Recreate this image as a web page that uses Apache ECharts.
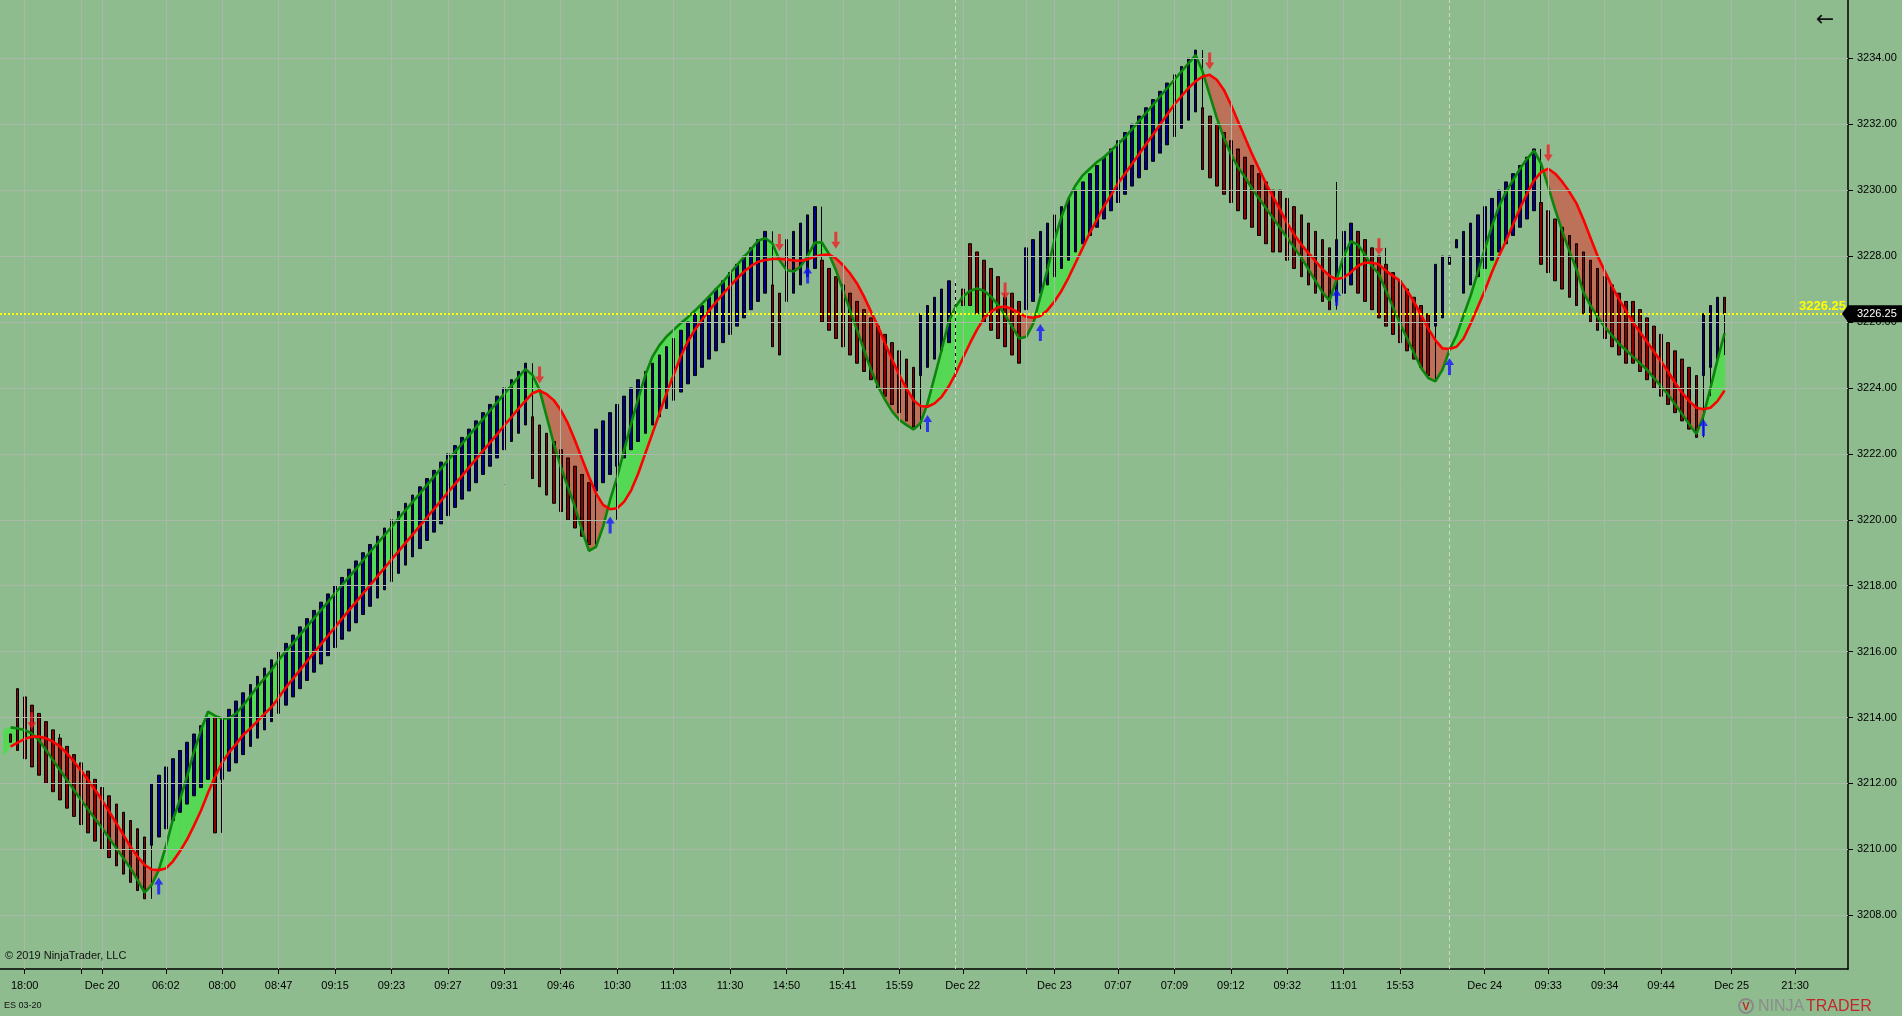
<!DOCTYPE html>
<html><head><meta charset="utf-8">
<script src="https://cdn.jsdelivr.net/npm/echarts@6/dist/echarts.min.js"></script>
<style>html,body{margin:0;padding:0;background:#8fbc8f;overflow:hidden}#c{width:1902px;height:1016px}</style>
</head><body><div id="c"></div>
<script>
// ---------- DATA ----------
// bars: [open, close] or [open, close, low, high]; bar index 0..243
const candles = [
[3213.5,3213.25],[3214.875,3213],[3214.625,3212.75],[3214.375,3212.5],[3214.125,3212.25],
[3213.875,3212],[3213.625,3211.75],[3213.375,3211.5,3211.5,3213.5],[3213.125,3211.25],[3212.875,3211],
[3212.625,3210.75],[3212.375,3210.5],[3212.125,3210.25],[3211.875,3210,3210,3212.25],[3211.625,3209.75],
[3211.375,3209.5],[3211.125,3209.25],[3210.875,3209],[3210.625,3208.75],[3210.375,3208.5],
[3210.125,3212,3208.5,3212],[3210.375,3212.25],[3210.625,3212.5],[3210.875,3212.75],[3211.125,3213],
[3211.375,3213.25],[3211.625,3213.5],[3211.875,3213.75],[3212.125,3214],[3214,3210.5],
[3212.125,3214,3210.5,3214],[3212.375,3214.25],[3212.625,3214.5],[3212.875,3214.75],[3213.125,3215],
[3213.375,3215.25],[3213.625,3215.5],[3213.875,3215.75],[3214.125,3216],[3214.375,3216.25],
[3214.625,3216.5],[3214.875,3216.75],[3215.125,3217],[3215.375,3217.25],[3215.625,3217.5],
[3215.875,3217.75],[3216.125,3218],[3216.375,3218.25],[3216.625,3218.5],[3216.875,3218.75],
[3217.125,3219],[3217.375,3219.25],[3217.625,3219.5],[3217.875,3219.75],[3218.125,3220],
[3218.375,3220.25],[3218.625,3220.5],[3218.875,3220.75],[3219.125,3221],[3219.375,3221.25],
[3219.625,3221.5],[3219.875,3221.75],[3220.125,3222],[3220.375,3222.25],[3220.625,3222.5],
[3220.875,3222.75],[3221.125,3223],[3221.375,3223.25],[3221.625,3223.5],[3221.875,3223.75],
[3222.125,3224,3220.5,3224],[3222.375,3224.25],[3222.625,3224.5],[3222.875,3224.75],[3223.125,3221.25,3221.25,3224.75],
[3222.875,3221],[3222.625,3220.75],[3222.375,3220.5],[3222.125,3220.25],[3221.875,3220],
[3221.625,3219.75],[3221.375,3219.5],[3221.125,3219.25],[3220.875,3222.75,3219.25,3222.75],[3221.125,3223],
[3221.375,3223.25],[3221.625,3223.5,3220,3223.5],[3221.875,3223.75],[3222.125,3224],[3222.375,3224.25],
[3222.625,3224.5],[3222.875,3224.75],[3223.125,3225],[3223.375,3225.25],[3223.625,3225.5],
[3223.875,3225.75],[3224.125,3226],[3224.375,3226.25],[3224.625,3226.5],[3224.875,3226.75],
[3225.125,3227],[3225.375,3227.25],[3225.625,3227.5],[3225.875,3227.75],[3226.125,3228],
[3226.375,3228.25],[3226.625,3228.5],[3226.875,3228.75],[3227.125,3225.25,3225.25,3228.75],[3226.875,3225],
[3226.625,3228.5,3225,3228.5],[3226.875,3228.75],[3227.125,3229],[3227.375,3229.25],[3227.625,3229.5],
[3227.875,3226,3226,3229.5],[3227.625,3225.75],[3227.375,3225.5],[3227.125,3225.25],[3226.875,3225],
[3226.625,3224.75],[3226.375,3224.5],[3226.125,3224.25],[3225.875,3224],[3225.625,3223.75],
[3225.375,3223.5],[3225.125,3223.25,3223.25,3226.75],[3224.875,3223],[3224.625,3222.75],[3224.375,3226.25,3222.75,3226.25],
[3224.625,3226.5],[3224.875,3226.75],[3225.125,3227],[3225.375,3227.25],[3226.5,3226.5,3224.25,3227.25],
[3227,3226.5],[3228.375,3226.5],[3228.125,3226.25],[3227.875,3226],[3227.625,3225.75],
[3227.375,3225.5],[3226.75,3225.25,3225.25,3226.875],[3226.875,3225],[3226.625,3224.75],[3226.375,3228.25,3224.75,3228.25],
[3226.625,3228.5],[3226.875,3228.75],[3227.125,3229],[3227.375,3229.25,3226.25,3229.25],[3227.625,3229.5],
[3227.875,3229.75],[3228.125,3230],[3228.375,3230.25],[3228.625,3230.5],[3228.875,3230.75],
[3229.125,3231],[3229.375,3231.25],[3229.625,3231.5],[3229.875,3231.75],[3230.125,3232],
[3230.375,3232.25],[3230.625,3232.5],[3230.875,3232.75],[3231.125,3233],[3231.375,3233.25],
[3231.625,3233.5],[3231.875,3233.75],[3232.125,3234],[3232.375,3234.25],[3232.5,3230.625,3230.625,3234.25],
[3232.25,3230.375],[3232,3230.125],[3231.75,3229.875],[3231.5,3229.625],[3231.25,3229.375],
[3231,3229.125],[3230.75,3228.875],[3230.5,3228.625],[3230.25,3228.375],[3230,3228.125],
[3230,3228.125],[3229.75,3227.875],[3229.5,3227.625],[3229.25,3227.375],[3229,3227.125],
[3228.75,3226.875],[3228.5,3226.625],[3228.25,3226.375],[3226.625,3228.5,3226.375,3230.25],[3226.875,3228.75,3226.875,3231.5],
[3227.125,3229],[3228.75,3226.875],[3228.5,3226.625],[3228.25,3226.375],[3228,3226.125],
[3227.75,3225.875,3225.875,3228.25],[3227.5,3225.625],[3227.25,3225.375],[3227,3225.125],[3226.75,3224.875],
[3226.5,3224.625],[3226.25,3224.375],[3225.875,3227.75,3224.25,3227.75],[3226.125,3228],[3227.75,3228],
[3228.25,3228.5],[3226.875,3228.75],[3227.125,3229],[3227.375,3229.25],[3227.625,3229.5,3226,3229.5],
[3227.875,3229.75],[3228.125,3230],[3228.375,3230.25],[3228.625,3230.5],[3228.875,3230.75],
[3229.125,3231],[3229.375,3231.25],[3229.625,3227.75,3227.75,3231.25],[3229.375,3227.5],[3229.125,3227.25],
[3228.875,3227],[3228.625,3226.75],[3228.375,3226.5],[3228.125,3226.25],[3227.875,3226],
[3227.625,3225.75],[3227.375,3225.5],[3227.125,3225.25],[3226.875,3225],[3226.625,3224.75],
[3226.625,3224.75],[3226.375,3224.5],[3226.125,3224.25],[3225.875,3224],[3225.625,3223.75],
[3225.375,3223.5],[3225.125,3223.25],[3224.875,3223],[3224.625,3222.75],[3224.375,3222.5],
[3224.375,3226.25,3222.5,3226.25],[3224.625,3226.5,3223.75,3226.5],[3224.875,3226.75],[3226.75,3226.25,3225,3226.75]
];

// fast (green) line; first value is the slot before bar 0 (only its fill shows)
const fastLine = [3213.64,
3213.70,3213.67,3213.62,3213.52,3213.32,3213.02,3212.71,3212.41,3212.10,3211.80,
3211.50,3211.21,3210.92,3210.64,3210.34,3210.03,3209.73,3209.43,3209.07,3208.69,
3208.92,3209.37,3210.08,3210.89,3211.50,3212.20,3212.96,3213.62,3214.18,3214.05,
3213.97,3213.98,3214.13,3214.38,3214.65,3214.94,3215.19,3215.44,3215.75,3216.00,
3216.25,3216.50,3216.76,3217.01,3217.26,3217.51,3217.77,3218.02,3218.27,3218.52,
3218.78,3219.03,3219.28,3219.53,3219.78,3220.04,3220.29,3220.54,3220.79,3221.05,
3221.30,3221.55,3221.80,3222.06,3222.31,3222.56,3222.81,3223.06,3223.32,3223.57,
3223.82,3224.07,3224.33,3224.57,3224.39,3223.94,3223.13,3222.32,3221.61,3221.00,
3220.40,3219.69,3219.06,3219.18,3219.79,3220.60,3221.30,3222.12,3222.93,3223.68,
3224.39,3224.95,3225.30,3225.56,3225.76,3225.96,3226.14,3226.34,3226.55,3226.77,
3227.00,3227.22,3227.48,3227.73,3227.98,3228.21,3228.47,3228.54,3228.39,3227.88,
3227.58,3227.53,3227.68,3228.00,3228.41,3228.42,3228.08,3227.58,3226.97,3226.36,
3225.76,3225.15,3224.54,3224.04,3223.63,3223.28,3223.03,3222.88,3222.74,3222.93,
3223.53,3224.34,3225.15,3226.01,3226.47,3226.77,3226.94,3227.02,3226.95,3226.77,
3226.52,3226.21,3225.86,3225.50,3225.55,3225.96,3226.77,3227.58,3228.49,3229.20,
3229.75,3230.15,3230.45,3230.65,3230.85,3231.00,3231.20,3231.40,3231.60,3231.85,
3232.10,3232.35,3232.60,3232.85,3233.10,3233.35,3233.60,3233.85,3234.10,3233.60,
3232.90,3232.20,3231.60,3231.10,3230.70,3230.40,3230.05,3229.75,3229.45,3229.15,
3228.85,3228.55,3228.25,3227.95,3227.60,3227.25,3226.90,3226.65,3227.30,3228.00,
3228.45,3228.35,3228.05,3227.70,3227.45,3226.95,3226.45,3225.95,3225.50,3225.05,
3224.60,3224.30,3224.20,3224.55,3225.15,3225.60,3226.20,3226.80,3227.50,3228.20,
3228.90,3229.50,3229.95,3230.30,3230.65,3230.95,3231.20,3230.80,3230.10,3229.40,
3228.75,3228.15,3227.60,3226.90,3226.50,3226.15,3225.85,3225.60,3225.35,3225.15,
3224.95,3224.75,3224.55,3224.30,3224.05,3223.80,3223.50,3223.20,3222.90,3222.60,
3223.15,3224.00,3224.85,3225.66];

// slow (red) line; same layout as fastLine
const slowLine = [3212.85,
3213.12,3213.24,3213.35,3213.42,3213.42,3213.37,3213.27,3213.12,3212.91,3212.66,
3212.39,3212.10,3211.80,3211.48,3211.14,3210.79,3210.44,3210.08,3209.78,3209.53,
3209.39,3209.37,3209.42,3209.63,3209.94,3210.29,3210.72,3211.18,3211.72,3212.21,
3212.63,3212.95,3213.20,3213.48,3213.67,3213.89,3214.11,3214.32,3214.60,3214.90,
3215.17,3215.43,3215.70,3215.96,3216.22,3216.48,3216.74,3217.00,3217.26,3217.51,
3217.77,3218.02,3218.28,3218.53,3218.79,3219.04,3219.30,3219.55,3219.81,3220.06,
3220.32,3220.57,3220.83,3221.08,3221.33,3221.59,3221.84,3222.10,3222.35,3222.60,
3222.86,3223.11,3223.37,3223.61,3223.84,3223.92,3223.81,3223.63,3223.33,3222.93,
3222.42,3221.86,3221.31,3220.80,3220.45,3220.32,3220.35,3220.55,3220.90,3221.41,
3222.02,3222.62,3223.23,3223.84,3224.39,3224.95,3225.40,3225.76,3226.06,3226.34,
3226.60,3226.85,3227.09,3227.32,3227.53,3227.70,3227.83,3227.88,3227.91,3227.92,
3227.90,3227.87,3227.86,3227.90,3227.98,3228.03,3228.05,3227.93,3227.73,3227.48,
3227.17,3226.77,3226.31,3225.86,3225.35,3224.85,3224.39,3223.99,3223.63,3223.45,
3223.43,3223.53,3223.73,3224.04,3224.44,3224.90,3225.35,3225.76,3226.11,3226.31,
3226.45,3226.47,3226.39,3226.26,3226.16,3226.13,3226.18,3226.36,3226.62,3226.95,
3227.35,3227.80,3228.25,3228.70,3229.10,3229.50,3229.85,3230.20,3230.50,3230.80,
3231.10,3231.40,3231.70,3232.00,3232.30,3232.60,3232.85,3233.10,3233.30,3233.45,
3233.50,3233.35,3233.05,3232.60,3232.10,3231.60,3231.10,3230.65,3230.20,3229.80,
3229.40,3229.00,3228.65,3228.35,3228.10,3227.85,3227.60,3227.40,3227.30,3227.35,
3227.50,3227.70,3227.80,3227.80,3227.75,3227.55,3227.40,3227.25,3226.95,3226.60,
3226.20,3225.80,3225.45,3225.20,3225.18,3225.25,3225.50,3225.95,3226.45,3226.95,
3227.50,3228.00,3228.45,3228.95,3229.45,3229.90,3230.30,3230.55,3230.65,3230.50,
3230.25,3229.95,3229.60,3229.10,3228.55,3228.00,3227.55,3227.10,3226.70,3226.35,
3226.00,3225.70,3225.40,3225.10,3224.80,3224.50,3224.15,3223.85,3223.60,3223.40,
3223.35,3223.40,3223.60,3223.92];

// signal arrows: [bar index, price]
const arrowsDown = [[3,3213.90],[75,3224.39],[109,3228.41],[117,3228.48],[141,3226.94],[170,3233.92],[194,3228.28],[218,3231.13]];
const arrowsUp   = [[21,3208.89],[85,3219.84],[113,3227.43],[130,3222.92],[146,3225.68],[188,3226.75],[204,3224.65],[240,3222.80]];

// time axis ticks (bar index) and labels
const tickIdx = [2,10,13,22,30,38,46,54,62,70,78,86,94,102,110,118,126,135,144,148,157,165,173,181,189,197,209,218,226,234,244,253];
const tickLabels = ['18:00','','Dec 20','06:02','08:00','08:47','09:15','09:23','09:27','09:31','09:46','10:30','11:03','11:30','14:50','15:41','15:59','Dec 22','','Dec 23','07:07','07:09','09:12','09:32','11:01','15:53','Dec 24','09:33','09:34','09:44','Dec 25','21:30'];
const sessionBreaks = [134, 204];
const yTicks = [3208,3210,3212,3214,3216,3218,3220,3222,3224,3226,3228,3230,3232,3234];

// ---------- LAYOUT ----------
const W = 1902, H = 1016;
const GRID = {left: 0, right: 54, top: 0, bottom: 47};
const Y_MIN = 3206.37, Y_MAX = 3235.77;
const LEAD = 1, FUTURE = 17;
const NCAT = LEAD + candles.length + FUTURE;
const FONT = 'Arial, "Liberation Sans", sans-serif';
const BG = '#8fbc8f', GRIDC = '#a9b8a7';
const UP_FILL = '#55d955', DN_FILL = '#bd7159';

// ---------- BUILD ----------
const categories = new Array(NCAT).fill('');
tickIdx.forEach((t, k) => { categories[t + LEAD] = tickLabels[k] || ''; });
const tickSet = new Set(tickIdx.map(t => t + LEAD));
const showTick = (i) => tickSet.has(i);

const candleData = new Array(NCAT).fill('-');
candles.forEach((c, i) => {
  const o = c[0], cl = c[1];
  const lo = c.length > 2 ? c[2] : Math.min(o, cl);
  const hi = c.length > 3 ? c[3] : Math.max(o, cl);
  candleData[i + LEAD] = [o, cl, lo, hi];
});
const fastData = new Array(NCAT).fill('-');
const slowData = new Array(NCAT).fill('-');
for (let p = LEAD; p < fastLine.length; p++) { fastData[p] = fastLine[p]; slowData[p] = slowLine[p]; }
const fillData = [];
for (let p = 0; p + 1 < fastLine.length; p++) fillData.push([p, fastLine[p], slowLine[p], fastLine[p + 1], slowLine[p + 1]]);

const LAST = candles[candles.length - 1][1];

function poly(pts, color) {
  return {type: 'polygon', shape: {points: pts}, style: {fill: color, stroke: color, lineWidth: 0.6}};
}
function renderFill(params, api) {
  const p = api.value(0), g0 = api.value(1), r0 = api.value(2), g1 = api.value(3), r1 = api.value(4);
  const G0 = api.coord([p, g0]), R0 = api.coord([p, r0]), G1 = api.coord([p + 1, g1]), R1 = api.coord([p + 1, r1]);
  const d0 = g0 - r0, d1 = g1 - r1;
  const children = [];
  if (d0 * d1 >= 0) {
    children.push(poly([G0, G1, R1, R0], (d0 + d1) >= 0 ? UP_FILL : DN_FILL));
  } else {
    const t = d0 / (d0 - d1);
    const X = [G0[0] + (G1[0] - G0[0]) * t, G0[1] + (G1[1] - G0[1]) * t];
    children.push(poly([G0, X, R0], d0 > 0 ? UP_FILL : DN_FILL));
    children.push(poly([X, G1, R1], d1 > 0 ? UP_FILL : DN_FILL));
  }
  return {type: 'group', children};
}

const gridLines = [];
yTicks.forEach(v => gridLines.push({yAxis: v}));
tickIdx.forEach(t => gridLines.push({xAxis: t + LEAD}));
sessionBreaks.forEach(b => gridLines.push({xAxis: b + LEAD, lineStyle: {type: [4, 3], color: '#cdd5ca', width: 1}}));

const DOWN_PATH = 'path://M3,0 L6,0 L6,10 L9,10 L4.5,17 L0,10 L3,10 Z';
const UP_PATH = 'path://M4.5,0 L9,7 L6,7 L6,17 L3,17 L3,7 L0,7 Z';

const chart = echarts.init(document.getElementById('c'), null, {width: W, height: H});
chart.setOption({
  animation: false,
  backgroundColor: BG,
  grid: GRID,
  xAxis: {
    type: 'category', data: categories, boundaryGap: true,
    axisLine: {show: true, lineStyle: {color: '#000', width: 1.5}},
    axisTick: {show: true, alignWithLabel: true, interval: showTick, length: 5, lineStyle: {color: '#000'}},
    axisLabel: {show: true, interval: showTick, margin: 11, color: '#000', fontSize: 11, fontFamily: FONT},
    splitLine: {show: false}
  },
  yAxis: {
    type: 'value', position: 'right', min: Y_MIN, max: Y_MAX, scale: true,
    axisLine: {show: true, lineStyle: {color: '#000', width: 1.5}},
    axisTick: {show: true, length: 5, customValues: yTicks, lineStyle: {color: '#000'}},
    axisLabel: {show: true, customValues: yTicks, formatter: v => v.toFixed(2), margin: 9, color: '#000', fontSize: 11, fontFamily: FONT},
    splitLine: {show: false}
  },
  series: [
    {type: 'line', data: [], silent: true, z: 1,
     markLine: {silent: true, symbol: ['none', 'none'], animation: false, label: {show: false},
                lineStyle: {color: GRIDC, width: 1, type: 'solid'}, data: gridLines}},
    {type: 'custom', renderItem: renderFill, data: fillData, encode: {x: 0, y: [1, 2, 3, 4]}, silent: true, z: 2, clip: true},
    {type: 'candlestick', data: candleData, barWidth: 3.2, z: 3, silent: true,
     itemStyle: {color: '#00008b', color0: '#8b0000', borderColor: '#000', borderColor0: '#000', borderColorDoji: '#000', borderWidth: 1}},
    {type: 'line', data: fastData, symbol: 'none', z: 4, silent: true, lineStyle: {color: '#0b850b', width: 2.6}},
    {type: 'line', data: slowData, symbol: 'none', z: 4, silent: true, lineStyle: {color: '#ff0000', width: 2.6}},
    {type: 'scatter', data: arrowsDown.map(a => [a[0] + LEAD, a[1]]), symbol: DOWN_PATH, symbolSize: [9, 17], z: 5, silent: true,
     itemStyle: {color: '#f01c24'}},
    {type: 'scatter', data: arrowsUp.map(a => [a[0] + LEAD, a[1]]), symbol: UP_PATH, symbolSize: [9, 17], z: 5, silent: true,
     itemStyle: {color: '#1414ff'}},
    {type: 'line', data: [], silent: true, z: 6,
     markLine: {silent: true, symbol: ['none', 'none'], animation: false,
                data: [{yAxis: LAST}],
                lineStyle: {color: '#ffff00', width: 2, type: [2, 2]},
                label: {show: true, position: 'insideEndTop', formatter: LAST.toFixed(2), color: '#ffff00',
                        fontWeight: 'bold', fontSize: 13, fontFamily: FONT, distance: [2, 1]}}}
  ]
});

const yPix = chart.convertToPixel({yAxisIndex: 0}, LAST);
const xr = W - GRID.right;
chart.setOption({
  graphic: [
    {type: 'polygon', z: 100, shape: {points: [[xr - 6, yPix], [xr, yPix - 8.5], [W, yPix - 8.5], [W, yPix + 8.5], [xr, yPix + 8.5]]},
     style: {fill: '#000'}},
    {type: 'text', z: 101, x: xr + 9, y: yPix, style: {text: LAST.toFixed(2), fill: '#fff', font: '11px ' + FONT, verticalAlign: 'middle'}},
    {type: 'text', z: 101, x: 1825, y: 20, style: {text: '\u2190', fill: '#111', font: '22px "DejaVu Sans", sans-serif', align: 'center', verticalAlign: 'middle'}},
    {type: 'text', z: 101, x: 5, y: 956, style: {text: '\u00a9 2019 NinjaTrader, LLC', fill: '#111', font: '11px ' + FONT, verticalAlign: 'middle'}},
    {type: 'text', z: 101, x: 4, y: 1006, style: {text: 'ES 03-20', fill: '#111', font: '9px ' + FONT, verticalAlign: 'middle'}},
    {type: 'circle', z: 101, shape: {cx: 1746, cy: 1006, r: 7}, style: {fill: 'none', stroke: '#8a8a8a', lineWidth: 2}},
    {type: 'text', z: 101, x: 1746, y: 1007, style: {text: 'V', fill: '#c1272d', font: 'bold 11px ' + FONT, align: 'center', verticalAlign: 'middle'}},
    {type: 'text', z: 101, x: 1758, y: 1007, style: {text: 'NINJA', fill: '#8c8c8c', font: '16px ' + FONT, verticalAlign: 'middle'}},
    {type: 'text', z: 101, x: 1806, y: 1007, style: {text: 'TRADER', fill: '#c1272d', font: '16px ' + FONT, verticalAlign: 'middle'}}
  ]
});
</script></body></html>
